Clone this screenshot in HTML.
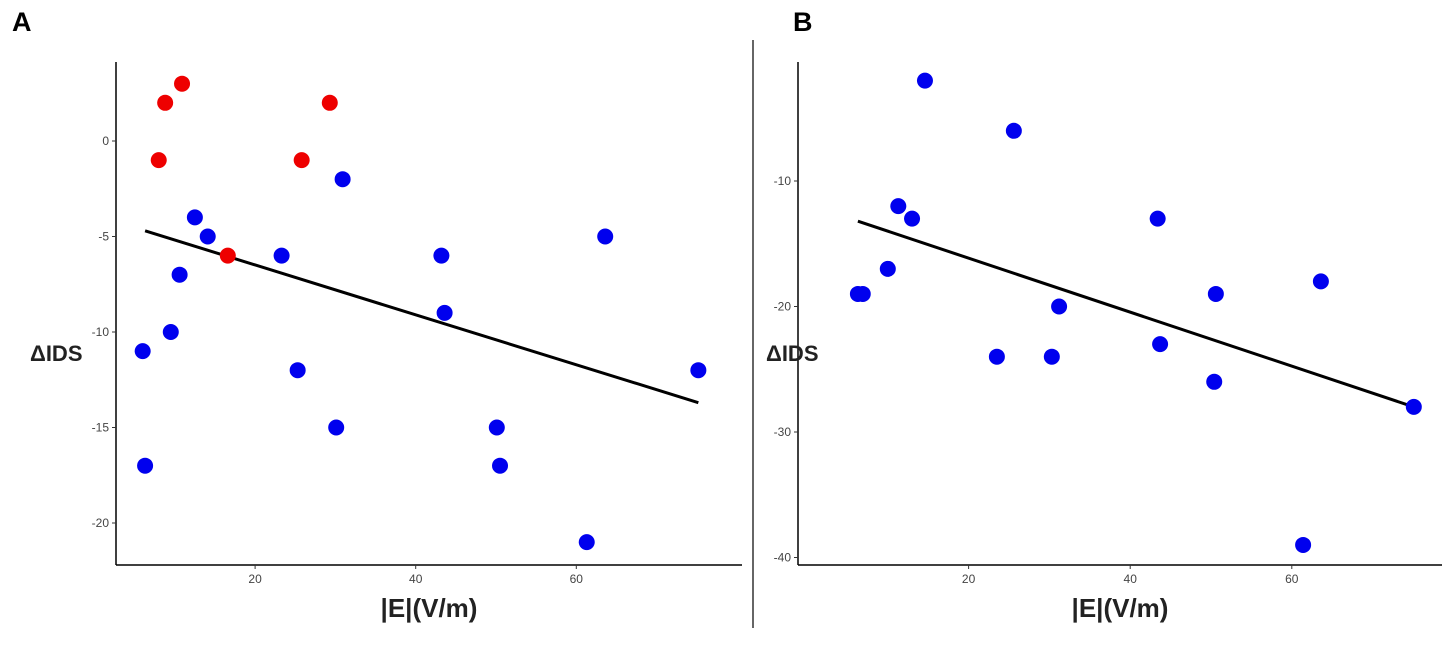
<!DOCTYPE html>
<html><head><meta charset="utf-8"><style>
body{margin:0;background:#fff;}
svg text{font-family:"Liberation Sans",sans-serif;}
</style></head><body>
<svg id="c" width="1453" height="643" xmlns="http://www.w3.org/2000/svg">
<text x="12" y="31" font-size="27" font-weight="bold">A</text>
<text x="793" y="31" font-size="27" font-weight="bold">B</text>
<line x1="753" y1="40" x2="753" y2="628" stroke="#333" stroke-width="1.5"/>
</svg>
<script>
const aBlueX=[6.0,6.3,9.5,10.6,12.5,14.1,23.3,25.3,30.1,30.9,43.2,43.6,50.1,50.5,61.3,63.6,75.2];
const aBlueY=[-11,-17,-10,-7,-4,-5,-6,-12,-15,-2,-6,-9,-15,-17,-21,-5,-12];
const aRedX=[8.0,8.8,10.9,16.6,25.8,29.3];
const aRedY=[-1,2,3,-6,-1,2];
const aLine=[[6.3,-4.7],[75.2,-13.7]];
const aYTicks=[0,-5,-10,-15,-20];
const bX=[6.3,6.9,10.0,11.3,13.0,14.6,23.5,25.6,30.3,31.2,43.4,43.7,50.4,50.6,61.4,63.6,75.1];
const bY=[-19,-19,-17,-12,-13,-2,-24,-6,-24,-20,-13,-23,-26,-19,-39,-18,-28];
const bLine=[[6.3,-13.2],[75.1,-28]];
const bYTicks=[-10,-20,-30,-40];
const xTicks=[20,40,60];
const NS="http://www.w3.org/2000/svg";
const svg=document.getElementById('c');
function mk(t,a){const e=document.createElementNS(NS,t);for(const k in a)e.setAttribute(k,a[k]);svg.appendChild(e);return e;}
function panel(p,cfg){
  const sx=v=>cfg.x0+v*cfg.kx, sy=v=>cfg.yref+(cfg.vref-v)*cfg.ky;
  let e=mk('line',{x1:cfg.ax,y1:62,x2:cfg.ax,y2:565,stroke:'#000','stroke-width':1.5});
  
  
  e=mk('line',{x1:cfg.ax,y1:565,x2:cfg.axEnd,y2:565,stroke:'#000','stroke-width':1.5});
  
  
  cfg.yt.forEach(v=>{
    mk('line',{x1:cfg.ax-4,y1:sy(v),x2:cfg.ax,y2:sy(v),stroke:'#333'});
    e=mk('text',{x:cfg.ax-7,y:sy(v)+4,'font-size':12,fill:'#444','text-anchor':'end'});e.textContent=v;
    
    
  });
  xTicks.forEach(v=>{
    mk('line',{x1:sx(v),y1:565,x2:sx(v),y2:569,stroke:'#333'});
    e=mk('text',{x:sx(v),y:583,'font-size':12,fill:'#444','text-anchor':'middle'});e.textContent=v;
    
    
  });
  e=mk('text',{x:(cfg.ax+cfg.axEnd)/2,y:617,'font-size':26,'font-weight':'bold','text-anchor':'middle',fill:'#222'});e.textContent='|E|(V/m)';
  
  
  e=mk('text',{x:cfg.titleX,y:361,'font-size':22,'font-weight':'bold',fill:'#222'});e.textContent='ΔIDS';
  
  
  e=mk('line',{x1:sx(cfg.line[0][0]),y1:sy(cfg.line[0][1]),x2:sx(cfg.line[1][0]),y2:sy(cfg.line[1][1]),stroke:'#000','stroke-width':3});
  
  
  cfg.series.forEach(s=>{
    s.x.forEach((v,i)=>{
      const c=mk('circle',{cx:sx(v),cy:sy(s.y[i]),r:8,fill:s.c});
      
      
    });
  });
}
panel('a',{x0:94.5,kx:8.03,yref:141,vref:0,ky:19.1,ax:116,axEnd:742,titleX:30,yt:aYTicks,line:aLine,
  series:[{x:aBlueX,y:aBlueY,c:'#0000ee',n:'blue'},{x:aRedX,y:aRedY,c:'#ee0000',n:'red'}]});
panel('b',{x0:807,kx:8.08,yref:181,vref:-10,ky:12.55,ax:798,axEnd:1442,titleX:766,yt:bYTicks,line:bLine,
  series:[{x:bX,y:bY,c:'#0000ee',n:'blue'}]});
</script>
</body></html>
